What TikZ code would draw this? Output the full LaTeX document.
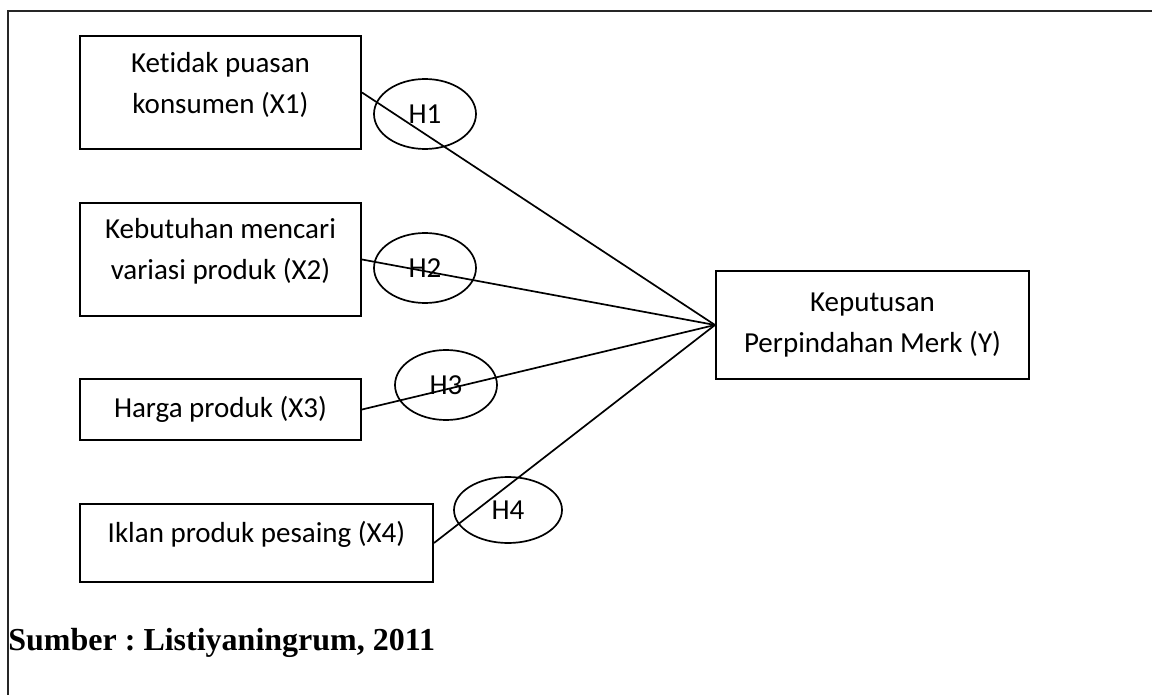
\documentclass[tikz,border=0pt]{standalone}
\usepackage{fontspec}
\setmainfont[Ligatures=NoCommon]{Carlito}
\newfontfamily\capfont{Liberation Serif}
\usepackage{tikz}
\usetikzlibrary{shapes.geometric, positioning}
\frenchspacing

\begin{document}
\begin{tikzpicture}[x=0.5pt, y=-0.5pt,
    varbox/.style={draw, line width=1pt, align=center, inner sep=0pt,
        font=\fontsize{14.5}{20.5}\selectfont},
    hyp/.style={draw, ellipse, line width=0.85pt, inner sep=0pt,
        minimum width=51pt, minimum height=35pt, font=\fontsize{14.5}{17}\selectfont},
    link/.style={line width=0.85pt}]
    \useasboundingbox (0,0) rectangle (1152,695);

    % outer frame (top and left only)
    \draw[line width=1pt, black!85] (1152,11) -- (8,11) -- (8,695);

    % independent variables
    \node[varbox, minimum width=140.5pt, minimum height=56.5pt, text depth=9.6pt] (x1) at (220.5,92.5)
        {Ketidak puasan\\konsumen (X1)};
    \node[varbox, minimum width=140.5pt, minimum height=56.5pt, text depth=10.6pt] (x2) at (220.5,259.5)
        {Kebutuhan mencari\\variasi produk (X2)};
    \node[varbox, minimum width=140.5pt, minimum height=30.5pt] (x3) at (220.5,409.5)
        {Harga produk (X3)};
    \node[varbox, minimum width=176.5pt, minimum height=39pt, text depth=11.6pt] (x4) at (256.5,543)
        {Iklan produk pesaing (X4)};

    % dependent variable
    \node[varbox, minimum width=156.5pt, minimum height=54pt] (y) at (872.5,325)
        {Keputusan\\Perpindahan Merk (Y)};

    % connectors
    \draw[link] (x1.east) -- (y.west);
    \draw[link] (x2.east) -- (y.west);
    \draw[link] (x3.east) -- (y.west);
    \draw[link] (x4.east) -- (y.west);

    % hypotheses
    \node[hyp] (h1) at (425,114) {H1};
    \node[hyp] (h2) at (425,268) {H2};
    \node[hyp] (h3) at (446,385) {H3};
    \node[hyp, minimum width=54pt, minimum height=33pt] (h4) at (508,510) {H4};

    % source
    \node[anchor=base west, inner sep=0pt, font=\capfont\bfseries\fontsize{16}{19}\selectfont]
        (src) at (8,650) {Sumber : Listiyaningrum, 2011};
\end{tikzpicture}
\end{document}
